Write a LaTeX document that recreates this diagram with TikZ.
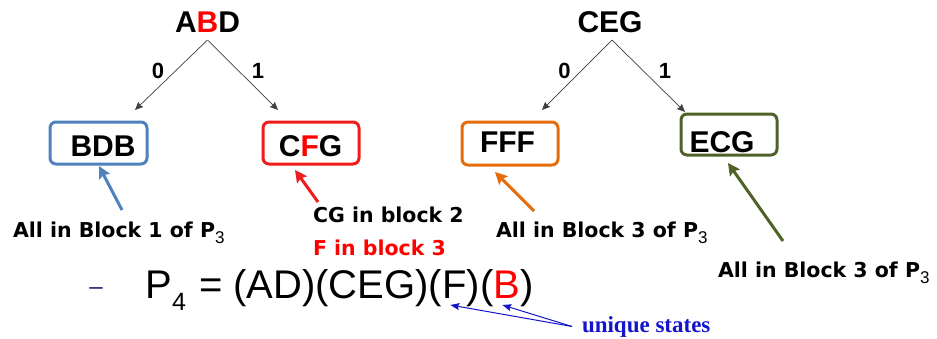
\documentclass[tikz,border=0pt]{standalone}
\usepackage{fontspec}
\setmainfont{Liberation Sans}
\newfontfamily\notefont{DejaVu Sans}
\newfontfamily\serifnote{Liberation Serif}
\usetikzlibrary{arrows.meta,calc}

\definecolor{boxblue}{HTML}{4F81BD}
\definecolor{boxred}{HTML}{EE1C1C}
\definecolor{txtred}{HTML}{FF0000}
\definecolor{boxorange}{HTML}{E46C0A}
\definecolor{boxolive}{HTML}{4F6228}
\definecolor{noteblue}{HTML}{1414CC}
\definecolor{dashnavy}{HTML}{1F1F78}

\newcommand{\setfs}[1]{\fontsize{#1}{#1}\selectfont}
% subscript set in the regular sans face, lowered below the baseline
\newcommand{\subidx}[3]{\raisebox{-#2pt}{\normalfont\setfs{#1}#3}}

\begin{document}
\begin{tikzpicture}[x=1pt,y=-1pt,
  every node/.style={inner sep=0pt,outer sep=0pt},
  rootlbl/.style={font=\setfs{30}\bfseries,anchor=base},
  branchlbl/.style={font=\setfs{22}\bfseries,anchor=base},
  branch/.style={draw=black!75,line width=0.7pt,
    -{Stealth[length=8pt,width=7pt,inset=1pt]}},
  statebox/.style={draw,line width=3pt,rounded corners=6pt},
  statetxt/.style={font=\setfs{30}\bfseries,anchor=base},
  callout/.style={line width=3pt,-{Stealth[length=12pt,width=12pt,inset=2pt]}},
  note/.style={font=\notefont\bfseries\setfs{20.5},anchor=base west},
  formula/.style={font=\setfs{40},anchor=base west},
  pointer/.style={draw=noteblue,line width=1pt,
    -{Stealth[length=9pt,width=7pt,inset=1.5pt]}}]

\path[fill=white,use as bounding box] (0,0) rectangle (937,338);

% ---- first split: ABD ----
\node[rootlbl] (ABD) at (207.5,32) {A{\color{txtred}B}D};
\node[branchlbl] (abd0) at (158,78) {0};
\node[branchlbl] (abd1) at (258,78) {1};

\node[statebox,draw=boxblue,minimum width=97pt,minimum height=42pt] (bdbbox) at (98.5,143) {};
\node[statetxt] (BDB) at (103,156) {BDB};
\node[statebox,draw=boxred,minimum width=96pt,minimum height=42pt] (cfgbox) at (311,143) {};
\node[statetxt] (CFG) at (310.5,156) {C{\color{txtred}F}G};

\coordinate (bdbtip) at (135,110);
\coordinate (cfgtip) at (278,110);
\draw[branch] ($(ABD.base)+(0,8)$) -- (bdbtip);
\draw[branch] ($(ABD.base)+(0,8)$) -- (cfgtip);

% ---- second split: CEG ----
\node[rootlbl] (CEG) at (610,32) {CEG};
\node[branchlbl] (ceg0) at (564.5,78) {0};
\node[branchlbl] (ceg1) at (665,78) {1};

\node[statebox,draw=boxorange,minimum width=96pt,minimum height=43pt] (fffbox) at (510,143.5) {};
\node[statetxt] (FFF) at (507.5,152) {FFF};
\node[statebox,draw=boxolive,minimum width=96pt,minimum height=41pt] (ecgbox) at (729,134.5) {};
\node[statetxt] (ECG) at (722,152) {ECG};

\coordinate (ffftip) at (542,110);
\coordinate (ecgtip) at (685,112);
\draw[branch] ($(CEG.base)+(2,8)$) -- (ffftip);
\draw[branch] ($(CEG.base)+(2,8)$) -- (ecgtip);

% ---- block annotations ----
\node[note] (noteA) at (13,237) {All in Block 1 of P\subidx{17}{6}{3}};
\node[note] (noteB) at (313,222) {CG in block 2};
\node[note,text=txtred] (noteC) at (313,255) {F in block 3};
\node[note] (noteD) at (496,237) {All in Block 3 of P\subidx{17}{6}{3}};
\node[note] (noteE) at (718,277) {All in Block 3 of P\subidx{17}{6}{3}};

\coordinate (tailA) at (122,210);
\coordinate (tipA) at (99,166);
\coordinate (tailB) at (318,202);
\coordinate (tipB) at (295,170);
\coordinate (tailD) at (534,211);
\coordinate (tipD) at (495,172);
\coordinate (tailE) at (783,241);
\coordinate (tipE) at (728,163);
\draw[callout,boxblue] (tailA) -- (tipA);
\draw[callout,boxred] (tailB) -- (tipB);
\draw[callout,boxorange] (tailD) -- (tipD);
\draw[callout,boxolive] (tailE) -- (tipE);

% ---- resulting partition ----
\node[font=\setfs{24},text=dashnavy,anchor=base] (bullet) at (96,294) {–};
\node[formula] (fP) at (145,298) {P};
\node[font=\setfs{25},anchor=base west] (f4) at ($(fP.base east)+(0.5,12)$) {4};
\node[formula] (fEq) at (199,298) {= (AD)(CEG)(};
\node[formula] (fF) at (fEq.base east) {F};
\node[formula] (fM) at (fF.base east) {)(};
\node[formula,text=txtred] (fB) at (fM.base east) {B};
\node[formula] (fE) at (fB.base east) {)};

\node[font=\serifnote\bfseries\setfs{23},text=noteblue,anchor=base west,
      inner xsep=10pt,inner ysep=0pt] (uniq) at (572,332) {unique states};
\draw[pointer] (uniq.west) -- ($(fF.base west)+(8,7)$);
\draw[pointer] (uniq.west) -- ($(fB.base west)+(9,7)$);

\end{tikzpicture}
\end{document}
